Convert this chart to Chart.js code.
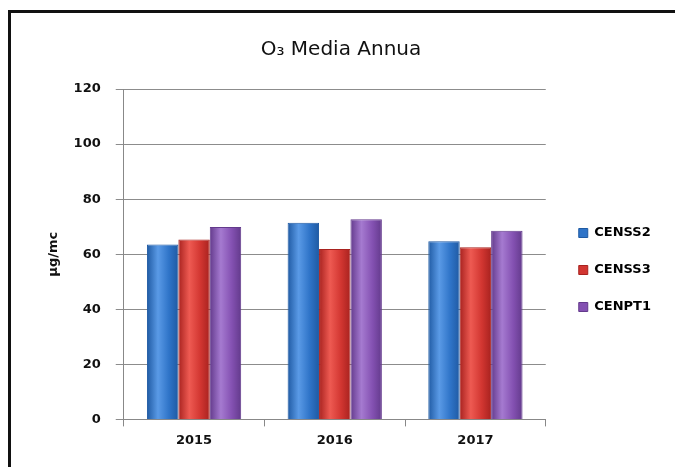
<!DOCTYPE html>
<html>
<head>
<meta charset="utf-8">
<script src="https://cdn.jsdelivr.net/npm/chart.js@4/dist/chart.umd.min.js"></script>
<style>
  html, body { margin: 0; padding: 0; background: #fff; }
  #wrap { position: relative; width: 675px; height: 467px; overflow: hidden; }
  #frame { position: absolute; left: 8px; top: 10px; width: 700px; height: 500px;
           border-top: 3px solid #111; border-left: 3px solid #111; box-sizing: border-box; }
  canvas { position: absolute; left: 0; top: 0; }
</style>
</head>
<body>
<div id="wrap">
  <div id="frame"></div>
  <canvas id="c" width="675" height="467"></canvas>
</div>
<script>
const categories = ['2015', '2016', '2017'];
const seriesNames = ['CENSS2', 'CENSS3', 'CENPT1'];
const censs2 = [63.5, 71.4, 64.7];
const censs3 = [65.3, 61.9, 62.5];
const cenpt1 = [69.9, 72.7, 68.5];
const yTicks = [0, 20, 40, 60, 80, 100, 120];

const palette = [
  { base: '#2f74c8', light: '#5a9ae6', dark: '#1f5aa3' },
  { base: '#d23631', light: '#ee5a52', dark: '#a8221f' },
  { base: '#8451b2', light: '#a57ad0', dark: '#633a8c' }
];

function barFill(p) {
  return function (ctx) {
    const el = ctx.element;
    if (!el || el.x === undefined || el.width === undefined || isNaN(el.x)) return p.base;
    const c = ctx.chart.ctx;
    const x0 = el.x - el.width / 2, x1 = el.x + el.width / 2;
    const g = c.createLinearGradient(x0, 0, x1, 0);
    g.addColorStop(0, p.dark);
    g.addColorStop(0.35, p.light);
    g.addColorStop(0.7, p.base);
    g.addColorStop(1, p.dark);
    return g;
  };
}

const seriesValues = [censs2, censs3, cenpt1];
const datasets = seriesNames.map((n, i) => ({
  label: n,
  data: seriesValues[i],
  backgroundColor: barFill(palette[i]),
  borderColor: palette[i].dark,
  borderWidth: 1,
  categoryPercentage: 0.67,
  barPercentage: 1.0
}));

const legendShift = {
  id: 'legendShift',
  afterLayout(chart) {
    const lg = chart.legend;
    if (!lg) return;
    lg.left += 9; lg.right += 9;
    lg.top += 24; lg.bottom += 24;
  }
};

const tickFont = { family: 'DejaVu Sans', size: 13, weight: 'bold' };

const chart = new Chart(document.getElementById('c'), {
  type: 'bar',
  data: { labels: categories, datasets },
  plugins: [legendShift],
  options: {
    responsive: false,
    animation: false,
    layout: { padding: { left: 30, right: 23, top: 38, bottom: 13 } },
    plugins: {
      title: {
        display: true,
        text: 'O\u2083 Media Annua',
        color: '#111',
        font: { family: 'DejaVu Sans', size: 20, weight: 'normal' },
        padding: { top: 0, bottom: 27 }
      },
      legend: {
        position: 'right',
        labels: {
          color: '#111',
          font: tickFont,
          boxWidth: 9, boxHeight: 9,
          padding: 24,
          generateLabels: (ch) => ch.data.datasets.map((d, i) => ({
            text: d.label, fillStyle: palette[i].base, strokeStyle: palette[i].dark,
            lineWidth: 1, datasetIndex: i, hidden: false
          }))
        }
      },
      tooltip: { enabled: false }
    },
    scales: {
      x: {
        grid: { display: true, drawOnChartArea: false, offset: true, tickLength: 7, color: '#888' },
        border: { color: '#888' },
        ticks: { color: '#111', font: tickFont, padding: 6 }
      },
      y: {
        min: 0, max: 120,
        afterBuildTicks: (ax) => { ax.ticks = yTicks.map(v => ({ value: v })); },
        grid: { color: '#8c8c8c', tickLength: 8 },
        border: { color: '#888' },
        ticks: { color: '#111', font: tickFont, padding: 15 },
        title: { display: true, text: '\u00b5g/mc', color: '#111',
                 font: tickFont, padding: { top: 16, bottom: -3 } }
      }
    }
  }
});
chart.update('none');
</script>
</body>
</html>
